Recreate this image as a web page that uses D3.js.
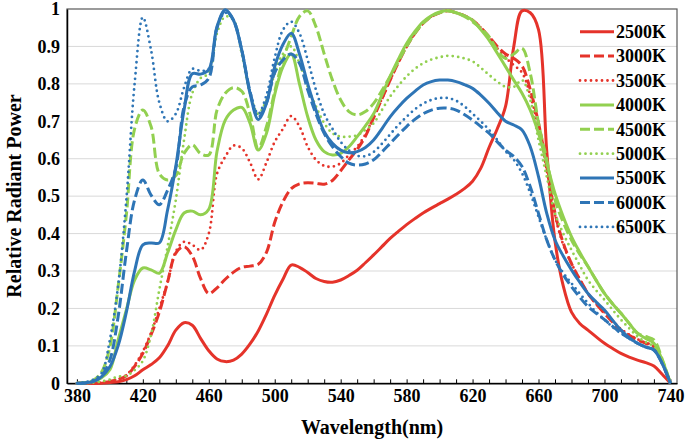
<!DOCTYPE html>
<head>
    <meta charset="utf-8">
    <style> body { margin: 0; background: #fff; } text { font-family: "Liberation Serif", "Times New Roman", serif; font-weight: bold; } </style>
    <script src="https://d3js.org/d3.v7.min.js"></script>
</head>
<body>
<div id="chart"></div>
<script>

var wavelengths = [
    380,385,390,395,400,405,410,415,420,425,
    430,435,440,445,450,455,460,465,470,475,
    480,485,490,495,500,505,510,515,520,525,
    530,535,540,545,550,555,560,565,570,575,
    580,585,590,595,600,605,610,615,620,625,
    630,635,640,645,650,655,660,665,670,675,
    680,685,690,695,700,705,710,715,720,725,
    730,735,740];

var names = ["2500K","3000K","3500K","4000K","4500K","5000K","5500K","6000K","6500K"];

var k2500 = [
    0,0,0,0,0.002,0.004,0.01,0.02,0.036,0.05,
    0.068,0.1,0.142,0.162,0.155,0.12,0.087,0.065,0.058,0.062,
    0.078,0.105,0.14,0.185,0.235,0.278,0.316,0.31,0.296,0.28,
    0.272,0.27,0.276,0.288,0.302,0.322,0.343,0.365,0.387,0.406,
    0.424,0.44,0.455,0.468,0.48,0.492,0.505,0.52,0.54,0.575,
    0.63,0.68,0.74,0.9,0.995,0.99,0.945,0.62,0.38,0.26,
    0.19,0.16,0.142,0.124,0.107,0.093,0.08,0.07,0.062,0.055,
    0.046,0.024,0];
var k3000 = [
    0,0,0,0.002,0.005,0.01,0.02,0.045,0.08,0.13,
    0.19,0.27,0.348,0.365,0.34,0.28,0.24,0.255,0.278,0.297,
    0.31,0.313,0.318,0.35,0.43,0.485,0.52,0.533,0.536,0.534,
    0.532,0.542,0.568,0.597,0.625,0.66,0.71,0.76,0.81,0.857,
    0.9,0.935,0.962,0.98,0.99,0.995,0.99,0.982,0.97,0.95,
    0.926,0.9,0.88,0.868,0.848,0.785,0.695,0.58,0.455,0.375,
    0.32,0.278,0.24,0.212,0.187,0.163,0.142,0.128,0.116,0.107,
    0.098,0.055,0];
var k3500 = [
    0,0,0,0.002,0.006,0.012,0.022,0.048,0.085,0.135,
    0.2,0.27,0.352,0.378,0.37,0.356,0.4,0.56,0.605,0.635,
    0.628,0.59,0.545,0.59,0.645,0.68,0.714,0.686,0.632,0.597,
    0.581,0.579,0.588,0.61,0.632,0.665,0.712,0.76,0.81,0.857,
    0.9,0.935,0.962,0.98,0.99,0.995,0.99,0.982,0.97,0.95,
    0.925,0.895,0.87,0.85,0.83,0.77,0.68,0.57,0.45,0.37,
    0.32,0.278,0.24,0.212,0.19,0.167,0.145,0.13,0.118,0.108,
    0.1,0.056,0];
var k4000 = [
    0,0.001,0.005,0.015,0.036,0.116,0.196,0.276,0.308,0.303,
    0.294,0.348,0.41,0.455,0.46,0.45,0.465,0.62,0.703,0.73,
    0.737,0.695,0.623,0.668,0.772,0.846,0.88,0.8,0.712,0.65,
    0.619,0.61,0.614,0.632,0.659,0.688,0.72,0.77,0.82,0.866,
    0.908,0.94,0.966,0.982,0.992,0.995,0.99,0.982,0.97,0.945,
    0.917,0.882,0.846,0.81,0.775,0.73,0.668,0.588,0.507,0.445,
    0.392,0.35,0.312,0.275,0.24,0.212,0.187,0.16,0.134,0.12,
    0.107,0.062,0];
var k4500 = [
    0,0.002,0.008,0.03,0.097,0.258,0.45,0.68,0.73,0.686,
    0.56,0.543,0.555,0.614,0.637,0.614,0.61,0.73,0.775,0.79,
    0.78,0.72,0.628,0.686,0.78,0.864,0.926,0.98,0.995,0.953,
    0.88,0.81,0.757,0.726,0.717,0.726,0.748,0.782,0.82,0.86,
    0.9,0.935,0.962,0.98,0.99,0.995,0.99,0.98,0.966,0.948,
    0.926,0.89,0.868,0.88,0.895,0.828,0.695,0.597,0.49,0.43,
    0.383,0.345,0.312,0.275,0.24,0.212,0.187,0.16,0.134,0.125,
    0.116,0.065,0];
var k5000 = [
    0,0,0.002,0.005,0.01,0.018,0.02,0.035,0.06,0.13,
    0.25,0.365,0.49,0.65,0.775,0.815,0.828,0.935,0.98,0.97,
    0.88,0.775,0.72,0.757,0.828,0.88,0.9,0.855,0.792,0.74,
    0.695,0.668,0.659,0.659,0.663,0.677,0.695,0.73,0.766,0.795,
    0.82,0.84,0.855,0.865,0.871,0.875,0.873,0.868,0.86,0.843,
    0.824,0.806,0.792,0.792,0.81,0.757,0.65,0.552,0.454,0.4,
    0.356,0.315,0.276,0.248,0.223,0.196,0.17,0.147,0.125,0.11,
    0.098,0.055,0];
var k5500 = [
    0,0.001,0.005,0.018,0.044,0.1,0.19,0.3,0.37,0.375,
    0.375,0.463,0.58,0.73,0.827,0.826,0.838,0.953,0.998,0.97,
    0.89,0.775,0.705,0.748,0.846,0.905,0.935,0.88,0.8,0.73,
    0.672,0.641,0.623,0.616,0.619,0.63,0.65,0.68,0.712,0.738,
    0.761,0.78,0.797,0.806,0.81,0.81,0.806,0.798,0.788,0.77,
    0.748,0.723,0.7,0.69,0.677,0.632,0.552,0.454,0.383,0.34,
    0.303,0.27,0.24,0.217,0.196,0.168,0.142,0.122,0.107,0.097,
    0.089,0.053,0];
var k6000 = [
    0,0.001,0.005,0.02,0.062,0.178,0.35,0.49,0.543,0.503,
    0.477,0.516,0.575,0.739,0.792,0.797,0.815,0.95,0.995,0.97,
    0.89,0.78,0.71,0.75,0.83,0.864,0.88,0.855,0.784,0.72,
    0.668,0.632,0.606,0.588,0.583,0.586,0.597,0.618,0.641,0.664,
    0.686,0.705,0.72,0.73,0.735,0.735,0.73,0.718,0.703,0.686,
    0.668,0.645,0.623,0.606,0.579,0.525,0.454,0.383,0.33,0.29,
    0.258,0.23,0.205,0.187,0.17,0.152,0.134,0.12,0.107,0.097,
    0.089,0.053,0];
var k6500 = [
    0,0.003,0.01,0.027,0.116,0.26,0.49,0.8,0.978,0.89,
    0.75,0.7,0.72,0.79,0.84,0.835,0.84,0.95,0.99,0.97,
    0.89,0.78,0.72,0.77,0.87,0.944,0.966,0.935,0.864,0.784,
    0.72,0.68,0.645,0.622,0.608,0.607,0.618,0.64,0.665,0.69,
    0.712,0.732,0.747,0.757,0.762,0.762,0.755,0.74,0.72,0.7,
    0.677,0.65,0.62,0.597,0.561,0.508,0.445,0.383,0.33,0.295,
    0.267,0.24,0.214,0.19,0.17,0.15,0.134,0.12,0.107,0.097,
    0.089,0.053,0];

var xTicks = [380,420,460,500,540,580,620,660,700,740];
var yTicks = [0,0.1,0.2,0.3,0.4,0.5,0.6,0.7,0.8,0.9,1];

var series = [k2500,k3000,k3500,k4000,k4500,k5000,k5500,k6000,k6500];
var red = "#E5332A", green = "#92D050", blue = "#2E75B6";
var colors = [red,red,red,green,green,green,blue,blue,blue];
var dashes = ["none","10,4","0,5.5","none","10,4","0,5.5","none","10,4","0,5.5"];

var W = 685, H = 442;
var plot = { left: 67, right: 677, top: 9, bottom: 383.3 };

var svg = d3.select("#chart").append("svg")
    .attr("width", W)
    .attr("height", H);

var x = d3.scaleLinear().domain([374, 744]).range([plot.left, plot.right]);
var y = d3.scaleLinear().domain([0, 1]).range([plot.bottom, plot.top]);

// grid
svg.append("g")
    .selectAll("line")
    .data(yTicks.filter(d => d > 0 && d < 1))
    .join("line")
    .attr("x1", plot.left).attr("x2", plot.right)
    .attr("y1", d => y(d)).attr("y2", d => y(d))
    .attr("stroke", "#d9d9d9")
    .attr("stroke-width", 1);

// frame
svg.append("rect")
    .attr("x", plot.left).attr("y", plot.top)
    .attr("width", plot.right - plot.left).attr("height", plot.bottom - plot.top)
    .attr("fill", "none")
    .attr("stroke", "#595959")
    .attr("stroke-width", 1.2);

// x axis
var xAxis = svg.append("g")
    .attr("transform", "translate(0," + plot.bottom + ")")
    .call(d3.axisBottom(x)
        .tickValues(d3.range(380, 741, 10))
        .tickSizeInner(-4).tickSizeOuter(0).tickPadding(6)
        .tickFormat(d => xTicks.indexOf(d) >= 0 ? d : ""));
xAxis.select(".domain").attr("stroke", "#000").attr("stroke-width", 1.5);
xAxis.selectAll(".tick line").attr("stroke", "#000");
xAxis.selectAll("text").attr("font-size", 18).attr("fill", "#000");

// y axis
var yAxis = svg.append("g")
    .attr("transform", "translate(" + plot.left + ",0)")
    .call(d3.axisLeft(y)
        .tickValues(yTicks)
        .tickSize(0).tickPadding(7)
        .tickFormat(d => d === 0 ? "0" : d === 1 ? "1" : d.toFixed(1)));
yAxis.select(".domain").attr("stroke", "#000").attr("stroke-width", 1.5);
yAxis.selectAll("text").attr("font-size", 18).attr("fill", "#000");

// curves
var line = d3.line()
    .curve(d3.curveCatmullRom.alpha(0.5))
    .x((d, i) => x(wavelengths[i]))
    .y(d => y(d));

svg.append("g")
    .selectAll("path")
    .data(series)
    .join("path")
    .attr("fill", "none")
    .attr("stroke", (d, i) => colors[i])
    .attr("stroke-width", (d, i) => i % 3 == 2 ? 2.8 : 3)
    .attr("stroke-dasharray", (d, i) => dashes[i])
    .attr("stroke-linecap", (d, i) => i % 3 == 2 ? "round" : "butt")
    .attr("stroke-linejoin", "round")
    .attr("d", line);

// legend
var legend = svg.append("g");
names.forEach(function(n, i) {
    var ly = 31.7 + i * 24.4;
    legend.append("line")
        .attr("x1", 580).attr("x2", 614)
        .attr("y1", ly).attr("y2", ly)
        .attr("stroke", colors[i])
        .attr("stroke-width", i % 3 == 2 ? 2.8 : 3)
        .attr("stroke-dasharray", dashes[i])
        .attr("stroke-linecap", i % 3 == 2 ? "round" : "butt");
    legend.append("text")
        .attr("x", 616).attr("y", ly)
        .attr("dy", "0.35em")
        .attr("font-size", 18)
        .text(n);
});

// titles
svg.append("text")
    .attr("x", 372).attr("y", 434)
    .attr("text-anchor", "middle")
    .attr("font-size", 20)
    .text("Wavelength(nm)");

svg.append("text")
    .attr("transform", "translate(21,196) rotate(-90)")
    .attr("text-anchor", "middle")
    .attr("font-size", 20)
    .text("Relative Radiant Power");

</script>
</body>
